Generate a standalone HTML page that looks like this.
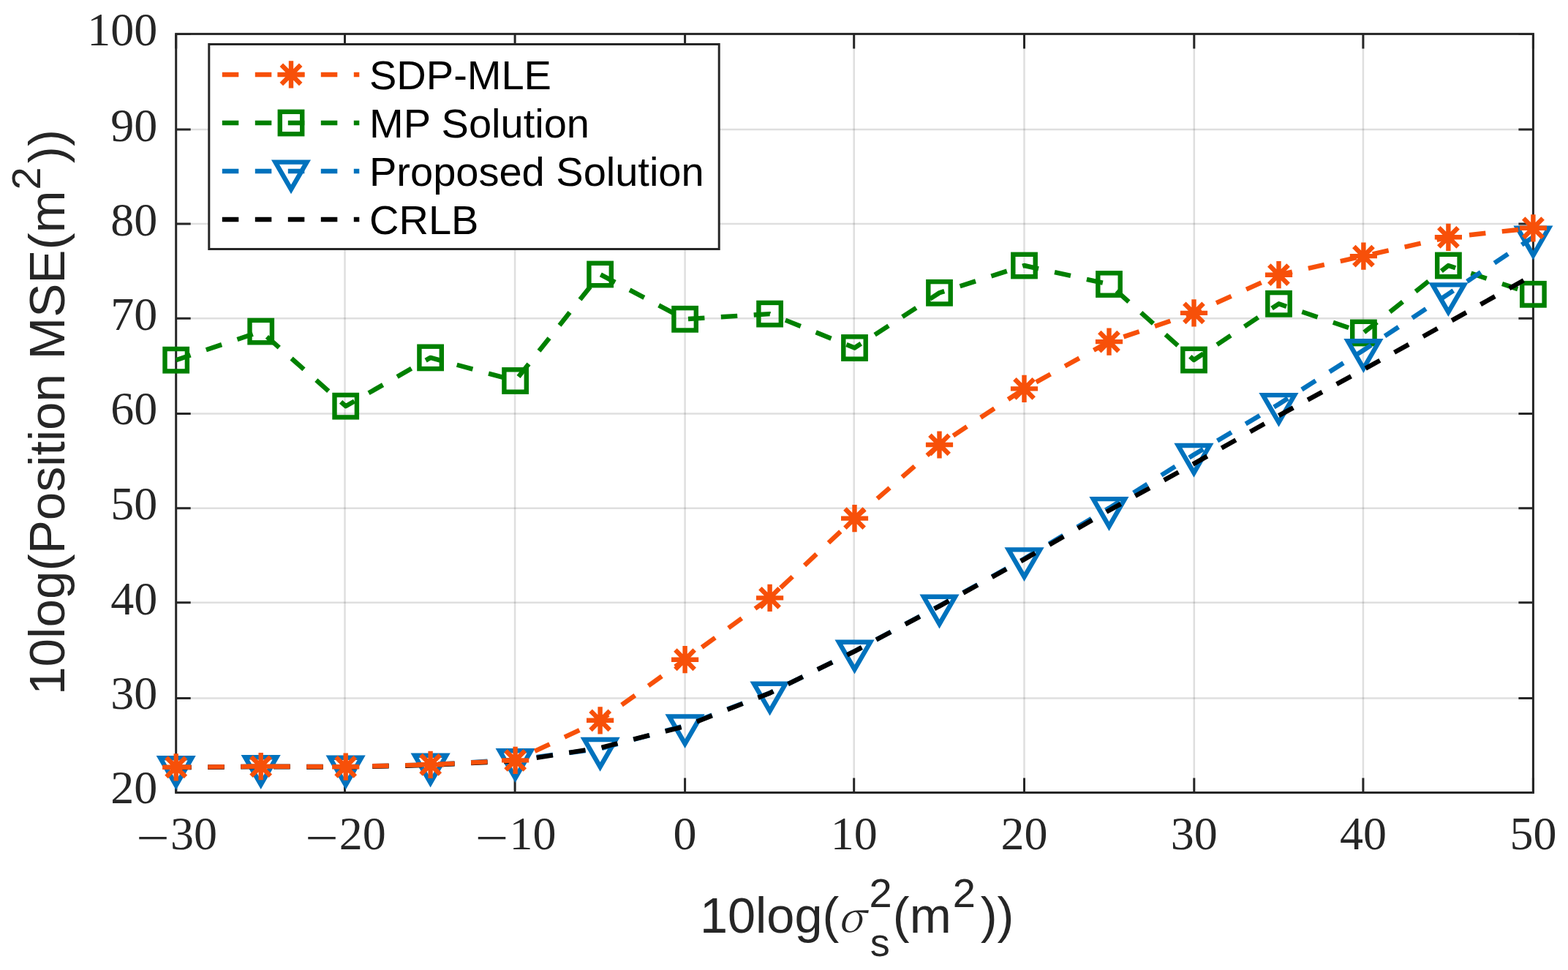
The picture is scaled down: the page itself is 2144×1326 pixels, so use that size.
<!DOCTYPE html><html><head><meta charset="utf-8"><style>html,body{margin:0;padding:0;background:#fff;}svg{display:block;}.tk{font-family:"Liberation Serif",serif;font-size:64px;fill:#262626;}.lab{font-family:"Liberation Sans",sans-serif;font-size:68.5px;fill:#262626;}.lg{font-family:"Liberation Sans",sans-serif;font-size:56px;fill:#000;}</style></head><body>
<svg width="2144" height="1326" viewBox="0 0 2144 1326">
<rect width="2144" height="1326" fill="#fff"/>
<path d="M471.5,46.4V1083.5M704.1,46.4V1083.5M936.6,46.4V1083.5M1167.7,46.4V1083.5M1400.5,46.4V1083.5M1632.8,46.4V1083.5M1863.9,46.4V1083.5" stroke="#262626" stroke-opacity="0.15" stroke-width="2.5" fill="none"/>
<path d="M240.7,954.4H2096.4M240.7,823.8H2096.4M240.7,694.7H2096.4M240.7,565.6H2096.4M240.7,435.2H2096.4M240.7,305.9H2096.4M240.7,177.1H2096.4" stroke="#262626" stroke-opacity="0.15" stroke-width="2.5" fill="none"/>
<path d="M240.7,1083.5V1063.5M240.7,46.4V66.4M471.5,1083.5V1063.5M471.5,46.4V66.4M704.1,1083.5V1063.5M704.1,46.4V66.4M936.6,1083.5V1063.5M936.6,46.4V66.4M1167.7,1083.5V1063.5M1167.7,46.4V66.4M1400.5,1083.5V1063.5M1400.5,46.4V66.4M1632.8,1083.5V1063.5M1632.8,46.4V66.4M1863.9,1083.5V1063.5M1863.9,46.4V66.4M2096.4,1083.5V1063.5M2096.4,46.4V66.4M240.7,1083.4H260.7M2096.4,1083.4H2076.4M240.7,954.4H260.7M2096.4,954.4H2076.4M240.7,823.8H260.7M2096.4,823.8H2076.4M240.7,694.7H260.7M2096.4,694.7H2076.4M240.7,565.6H260.7M2096.4,565.6H2076.4M240.7,435.2H260.7M2096.4,435.2H2076.4M240.7,305.9H260.7M2096.4,305.9H2076.4M240.7,177.1H260.7M2096.4,177.1H2076.4M240.7,46.5H260.7M2096.4,46.5H2076.4" stroke="#262626" stroke-width="3" fill="none"/>
<rect x="240.7" y="46.4" width="1855.7" height="1037.1" stroke="#262626" stroke-width="3" fill="none" stroke-linejoin="miter"/>
<polyline points="240.7,492.2 356.7,453.1 472.7,555.2 588.6,488.9 704.6,520.5 820.6,375.0 936.6,436.3 1052.6,429.1 1168.5,475.5 1284.5,400.3 1400.5,363.0 1516.5,388.5 1632.5,492.0 1748.5,415.3 1864.4,455.0 1980.4,363.0 2096.4,402.3" fill="none" stroke="#008000" stroke-width="6.4" stroke-dasharray="22.47 22.47" stroke-dashoffset="1.5" stroke-linejoin="round"/>
<rect x="225.5" y="477.0" width="30.4" height="30.4" stroke="#008000" stroke-width="6.4" fill="none"/><rect x="341.5" y="437.9" width="30.4" height="30.4" stroke="#008000" stroke-width="6.4" fill="none"/><rect x="457.5" y="540.0" width="30.4" height="30.4" stroke="#008000" stroke-width="6.4" fill="none"/><rect x="573.4" y="473.7" width="30.4" height="30.4" stroke="#008000" stroke-width="6.4" fill="none"/><rect x="689.4" y="505.3" width="30.4" height="30.4" stroke="#008000" stroke-width="6.4" fill="none"/><rect x="805.4" y="359.8" width="30.4" height="30.4" stroke="#008000" stroke-width="6.4" fill="none"/><rect x="921.4" y="421.1" width="30.4" height="30.4" stroke="#008000" stroke-width="6.4" fill="none"/><rect x="1037.4" y="413.9" width="30.4" height="30.4" stroke="#008000" stroke-width="6.4" fill="none"/><rect x="1153.3" y="460.3" width="30.4" height="30.4" stroke="#008000" stroke-width="6.4" fill="none"/><rect x="1269.3" y="385.1" width="30.4" height="30.4" stroke="#008000" stroke-width="6.4" fill="none"/><rect x="1385.3" y="347.8" width="30.4" height="30.4" stroke="#008000" stroke-width="6.4" fill="none"/><rect x="1501.3" y="373.3" width="30.4" height="30.4" stroke="#008000" stroke-width="6.4" fill="none"/><rect x="1617.3" y="476.8" width="30.4" height="30.4" stroke="#008000" stroke-width="6.4" fill="none"/><rect x="1733.3" y="400.1" width="30.4" height="30.4" stroke="#008000" stroke-width="6.4" fill="none"/><rect x="1849.2" y="439.8" width="30.4" height="30.4" stroke="#008000" stroke-width="6.4" fill="none"/><rect x="1965.2" y="347.8" width="30.4" height="30.4" stroke="#008000" stroke-width="6.4" fill="none"/><rect x="2081.2" y="387.1" width="30.4" height="30.4" stroke="#008000" stroke-width="6.4" fill="none"/>
<polyline points="240.7,1048.8 356.7,1047.6 472.7,1048.2 588.6,1045.3 704.6,1038.6 820.6,1023.5 936.6,991.8 1052.6,947.3 1168.5,890.2 1284.5,828.2 1400.5,763.8 1516.5,694.6 1632.5,621.5 1748.5,552.5 1864.4,478.7 1980.4,401.9 2096.4,324.1" fill="none" stroke="#0072BD" stroke-width="6.4" stroke-dasharray="22.5 22.5" stroke-dashoffset="1.5" stroke-linejoin="round"/>
<path d="M219.2,1036.3H262.2L240.7,1073.6Z" stroke="#0072BD" stroke-width="6.4" fill="none" stroke-linejoin="miter" stroke-miterlimit="10"/><path d="M335.1,1035.2H378.2L356.7,1072.5Z" stroke="#0072BD" stroke-width="6.4" fill="none" stroke-linejoin="miter" stroke-miterlimit="10"/><path d="M451.1,1035.8H494.2L472.7,1073.1Z" stroke="#0072BD" stroke-width="6.4" fill="none" stroke-linejoin="miter" stroke-miterlimit="10"/><path d="M567.1,1032.8H610.2L588.6,1070.1Z" stroke="#0072BD" stroke-width="6.4" fill="none" stroke-linejoin="miter" stroke-miterlimit="10"/><path d="M683.1,1026.2H726.2L704.6,1063.5Z" stroke="#0072BD" stroke-width="6.4" fill="none" stroke-linejoin="miter" stroke-miterlimit="10"/><path d="M799.1,1011.0H842.2L820.6,1048.4Z" stroke="#0072BD" stroke-width="6.4" fill="none" stroke-linejoin="miter" stroke-miterlimit="10"/><path d="M915.0,979.4H958.1L936.6,1016.7Z" stroke="#0072BD" stroke-width="6.4" fill="none" stroke-linejoin="miter" stroke-miterlimit="10"/><path d="M1031.0,934.8H1074.1L1052.6,972.1Z" stroke="#0072BD" stroke-width="6.4" fill="none" stroke-linejoin="miter" stroke-miterlimit="10"/><path d="M1147.0,877.8H1190.1L1168.5,915.1Z" stroke="#0072BD" stroke-width="6.4" fill="none" stroke-linejoin="miter" stroke-miterlimit="10"/><path d="M1263.0,815.8H1306.1L1284.5,853.1Z" stroke="#0072BD" stroke-width="6.4" fill="none" stroke-linejoin="miter" stroke-miterlimit="10"/><path d="M1379.0,751.4H1422.1L1400.5,788.7Z" stroke="#0072BD" stroke-width="6.4" fill="none" stroke-linejoin="miter" stroke-miterlimit="10"/><path d="M1494.9,682.1H1538.0L1516.5,719.5Z" stroke="#0072BD" stroke-width="6.4" fill="none" stroke-linejoin="miter" stroke-miterlimit="10"/><path d="M1610.9,609.0H1654.0L1632.5,646.4Z" stroke="#0072BD" stroke-width="6.4" fill="none" stroke-linejoin="miter" stroke-miterlimit="10"/><path d="M1726.9,540.1H1770.0L1748.5,577.4Z" stroke="#0072BD" stroke-width="6.4" fill="none" stroke-linejoin="miter" stroke-miterlimit="10"/><path d="M1842.9,466.3H1886.0L1864.4,503.6Z" stroke="#0072BD" stroke-width="6.4" fill="none" stroke-linejoin="miter" stroke-miterlimit="10"/><path d="M1958.9,389.4H2002.0L1980.4,426.7Z" stroke="#0072BD" stroke-width="6.4" fill="none" stroke-linejoin="miter" stroke-miterlimit="10"/><path d="M2074.9,311.6H2117.9L2096.4,349.0Z" stroke="#0072BD" stroke-width="6.4" fill="none" stroke-linejoin="miter" stroke-miterlimit="10"/>
<polyline points="240.7,1049.3 356.7,1048.1 472.7,1048.8 588.6,1045.8 704.6,1040.3 820.6,1022.3 936.6,992.8 1052.6,947.4 1168.5,890.3 1284.5,828.6 1400.5,764.6 1516.5,697.7 1632.5,633.9 1748.5,568.2 1864.4,505.2 1980.4,440.8 2096.4,375.9" fill="none" stroke="#000000" stroke-width="6.4" stroke-dasharray="22.5 22.5" stroke-dashoffset="1.5" stroke-linejoin="round"/>
<polyline points="240.7,1048.8 356.7,1047.6 472.7,1048.2 588.6,1045.3 704.6,1039.4 820.6,984.8 936.6,901.7 1052.6,817.4 1168.5,708.6 1284.5,608.0 1400.5,531.4 1516.5,467.1 1632.5,427.9 1748.5,375.7 1864.4,350.1 1980.4,324.3 2096.4,311.8" fill="none" stroke="#F75009" stroke-width="6.4" stroke-dasharray="22.5 22.5" stroke-dashoffset="1.5" stroke-linejoin="round"/>
<path d="M222.1,1048.8H259.3M240.7,1030.2V1067.4M227.5,1035.6L253.9,1061.9M227.5,1061.9L253.9,1035.6" stroke="#F75009" stroke-width="6.4" fill="none"/><path d="M338.1,1047.6H375.3M356.7,1029.0V1066.2M343.5,1034.4L369.8,1060.7M343.5,1060.7L369.8,1034.4" stroke="#F75009" stroke-width="6.4" fill="none"/><path d="M454.1,1048.2H491.3M472.7,1029.6V1066.8M459.5,1035.1L485.8,1061.4M459.5,1061.4L485.8,1035.1" stroke="#F75009" stroke-width="6.4" fill="none"/><path d="M570.0,1045.3H607.2M588.6,1026.7V1063.9M575.5,1032.1L601.8,1058.4M575.5,1058.4L601.8,1032.1" stroke="#F75009" stroke-width="6.4" fill="none"/><path d="M686.0,1039.4H723.2M704.6,1020.8V1058.0M691.5,1026.3L717.8,1052.6M691.5,1052.6L717.8,1026.3" stroke="#F75009" stroke-width="6.4" fill="none"/><path d="M802.0,984.8H839.2M820.6,966.2V1003.4M807.5,971.7L833.8,998.0M807.5,998.0L833.8,971.7" stroke="#F75009" stroke-width="6.4" fill="none"/><path d="M918.0,901.7H955.2M936.6,883.1V920.3M923.4,888.6L949.7,914.9M923.4,914.9L949.7,888.6" stroke="#F75009" stroke-width="6.4" fill="none"/><path d="M1034.0,817.4H1071.2M1052.6,798.8V836.0M1039.4,804.2L1065.7,830.5M1039.4,830.5L1065.7,804.2" stroke="#F75009" stroke-width="6.4" fill="none"/><path d="M1150.0,708.6H1187.1M1168.5,690.0V727.2M1155.4,695.4L1181.7,721.7M1155.4,721.7L1181.7,695.4" stroke="#F75009" stroke-width="6.4" fill="none"/><path d="M1265.9,608.0H1303.1M1284.5,589.4V626.6M1271.4,594.8L1297.7,621.1M1271.4,621.1L1297.7,594.8" stroke="#F75009" stroke-width="6.4" fill="none"/><path d="M1381.9,531.4H1419.1M1400.5,512.8V550.0M1387.4,518.2L1413.7,544.5M1387.4,544.5L1413.7,518.2" stroke="#F75009" stroke-width="6.4" fill="none"/><path d="M1497.9,467.1H1535.1M1516.5,448.5V485.7M1503.3,453.9L1529.6,480.2M1503.3,480.2L1529.6,453.9" stroke="#F75009" stroke-width="6.4" fill="none"/><path d="M1613.9,427.9H1651.1M1632.5,409.3V446.5M1619.3,414.8L1645.6,441.1M1619.3,441.1L1645.6,414.8" stroke="#F75009" stroke-width="6.4" fill="none"/><path d="M1729.9,375.7H1767.1M1748.5,357.1V394.3M1735.3,362.5L1761.6,388.8M1735.3,388.8L1761.6,362.5" stroke="#F75009" stroke-width="6.4" fill="none"/><path d="M1845.8,350.1H1883.0M1864.4,331.5V368.7M1851.3,337.0L1877.6,363.3M1851.3,363.3L1877.6,337.0" stroke="#F75009" stroke-width="6.4" fill="none"/><path d="M1961.8,324.3H1999.0M1980.4,305.7V342.9M1967.3,311.2L1993.6,337.5M1967.3,337.5L1993.6,311.2" stroke="#F75009" stroke-width="6.4" fill="none"/><path d="M2077.8,311.8H2115.0M2096.4,293.2V330.4M2083.2,298.6L2109.6,324.9M2083.2,324.9L2109.6,298.6" stroke="#F75009" stroke-width="6.4" fill="none"/>
<text class="tk" x="215.3" y="1097.6" text-anchor="end">20</text>
<text class="tk" x="215.3" y="969.3" text-anchor="end">30</text>
<text class="tk" x="215.3" y="839.6" text-anchor="end">40</text>
<text class="tk" x="215.3" y="709.5" text-anchor="end">50</text>
<text class="tk" x="215.3" y="580.4" text-anchor="end">60</text>
<text class="tk" x="215.3" y="451.3" text-anchor="end">70</text>
<text class="tk" x="215.3" y="322.2" text-anchor="end">80</text>
<text class="tk" x="215.3" y="192.6" text-anchor="end">90</text>
<text class="tk" x="215.3" y="62.0" text-anchor="end">100</text>
<text class="tk" transform="translate(209.1,1166.5) scale(1.26,1)" x="0" y="0" text-anchor="middle">−</text>
<text class="tk" x="265.0" y="1161.0" text-anchor="middle">30</text>
<text class="tk" transform="translate(439.9,1166.5) scale(1.26,1)" x="0" y="0" text-anchor="middle">−</text>
<text class="tk" x="495.8" y="1161.0" text-anchor="middle">20</text>
<text class="tk" transform="translate(672.5,1166.5) scale(1.26,1)" x="0" y="0" text-anchor="middle">−</text>
<text class="tk" x="728.4" y="1161.0" text-anchor="middle">10</text>
<text class="tk" x="936.6" y="1161.0" text-anchor="middle">0</text>
<text class="tk" x="1167.7" y="1161.0" text-anchor="middle">10</text>
<text class="tk" x="1400.5" y="1161.0" text-anchor="middle">20</text>
<text class="tk" x="1632.8" y="1161.0" text-anchor="middle">30</text>
<text class="tk" x="1863.9" y="1161.0" text-anchor="middle">40</text>
<text class="tk" x="2096.4" y="1161.0" text-anchor="middle">50</text>
<text class="lab" y="1274.5"><tspan x="956.9">10log(</tspan></text>
<text class="lab" x="1145.8" y="1274.2" style="font-family:Noto Serif CJK SC,Liberation Serif,serif;font-style:italic;font-size:57px">σ</text>
<text class="lab" style="font-size:56px"><tspan x="1188.5" y="1240.1">2</tspan><tspan x="1189.8" y="1307.3" style="font-size:54px">s</tspan><tspan x="1302.8" y="1240.1">2</tspan></text>
<text class="lab" y="1274.5"><tspan x="1220.85">(m</tspan><tspan x="1340.7">))</tspan></text>
<text class="lab" transform="rotate(-90)" style="font-size:69.3px"><tspan x="-950.0" y="88.1">10log(Position MSE(m</tspan><tspan x="-259.5" y="55.1" style="font-size:56px">2</tspan><tspan x="-223.2" y="88.1">))</tspan></text>
<rect x="285.8" y="60.5" width="697.4" height="280.0" fill="#fff" stroke="#262626" stroke-width="3"/>
<path d="M303.8,102.0H491.3" stroke="#F75009" stroke-width="6.4" stroke-dasharray="22.5 22.5" fill="none"/>
<path d="M379.4,102.0H416.6M398.0,83.3V120.6M384.8,88.8L411.2,115.1M384.8,115.1L411.2,88.8" stroke="#F75009" stroke-width="6.4" fill="none"/>
<text class="lg" x="505.0" y="122.1">SDP-MLE</text>
<path d="M303.8,168.0H491.3" stroke="#008000" stroke-width="6.4" stroke-dasharray="22.5 22.5" fill="none"/>
<rect x="382.8" y="152.8" width="30.4" height="30.4" stroke="#008000" stroke-width="6.4" fill="none"/>
<text class="lg" x="505.0" y="188.1">MP Solution</text>
<path d="M303.8,234.0H491.3" stroke="#0072BD" stroke-width="6.4" stroke-dasharray="22.5 22.5" fill="none"/>
<path d="M376.5,221.6H419.5L398.0,258.9Z" stroke="#0072BD" stroke-width="6.4" fill="none" stroke-linejoin="miter" stroke-miterlimit="10"/>
<text class="lg" x="505.0" y="254.1">Proposed Solution</text>
<path d="M303.8,300.0H491.3" stroke="#000000" stroke-width="6.4" stroke-dasharray="22.5 22.5" fill="none"/>
<text class="lg" x="505.0" y="320.1">CRLB</text>
</svg></body></html>
